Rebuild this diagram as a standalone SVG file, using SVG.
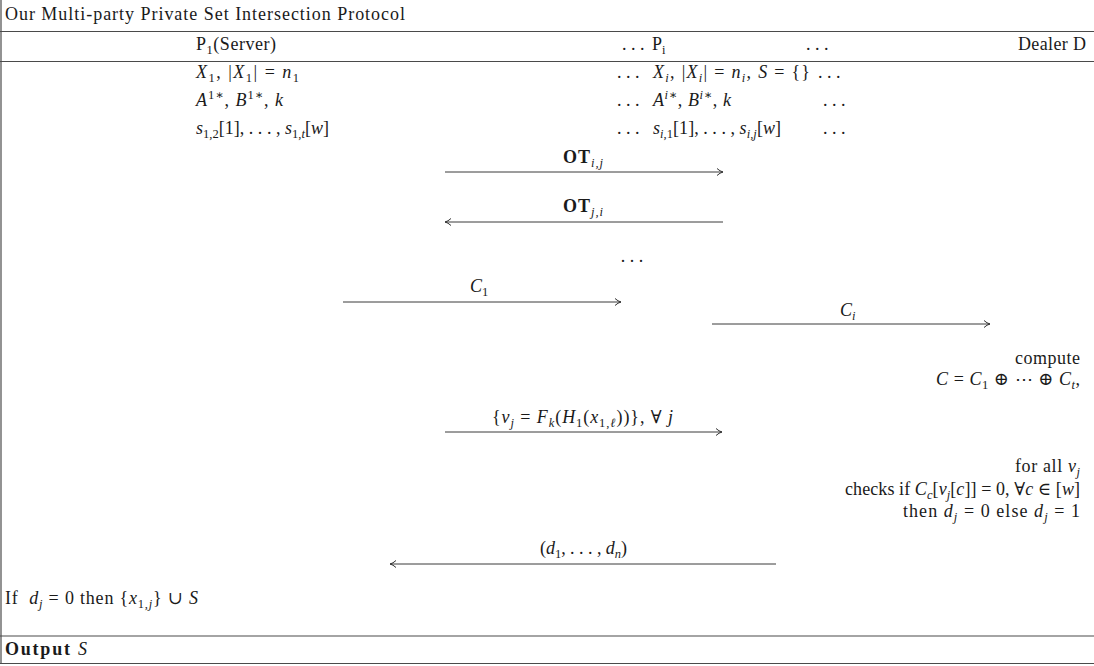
<svg xmlns="http://www.w3.org/2000/svg" width="1094" height="666" viewBox="0 0 1094 666">
<defs>
<style>
text{font-family:"Liberation Serif","DejaVu Serif",serif;font-size:18px;fill:#1a1a1a;white-space:pre}
.i{font-style:italic}
.s{font-size:12.5px}
.b{font-weight:bold}
.e{text-anchor:end}
.m{text-anchor:middle}
.rule{stroke:#4a4a4a;stroke-width:1.2;fill:none}
.msg{stroke:#3a3a3a;stroke-width:1;fill:none;marker-end:url(#ah)}
</style>
<marker id="ah" markerWidth="10" markerHeight="10" refX="7" refY="5" orient="auto" markerUnits="userSpaceOnUse">
<path d="M1,1.5 Q4,4.3 7,5 Q4,5.7 1,8.5" fill="none" stroke="#333" stroke-width="1"/>
</marker>
</defs>
<rect width="1094" height="666" fill="#fff"/>
<g id="frame">
<line class="rule" x1="1" y1="0" x2="1" y2="663.5"/>
<line class="rule" x1="0" y1="31.5" x2="1094" y2="31.5"/>
<line class="rule" x1="0" y1="61.5" x2="1094" y2="61.5" stroke-width="1.6"/>
<line class="rule" x1="0" y1="636" x2="1094" y2="636"/>
<line class="rule" x1="0" y1="663.5" x2="1094" y2="663.5"/>
<text x="5" y="20" textLength="400" lengthAdjust="spacing">Our Multi-party Private Set Intersection Protocol</text>
</g>
<g id="server">
<text x="196" y="50" textLength="80" lengthAdjust="spacing">P<tspan class="s" dy="3.5">1</tspan><tspan dy="-3.5">(Server)</tspan></text>
<text x="196" y="78" textLength="103" lengthAdjust="spacing"><tspan class="i">X</tspan><tspan class="s" dy="3.5">1</tspan><tspan dy="-3.5">, |</tspan><tspan class="i">X</tspan><tspan class="s" dy="3.5">1</tspan><tspan dy="-3.5">| = </tspan><tspan class="i">n</tspan><tspan class="s" dy="3.5">1</tspan></text>
<text x="196" y="106" textLength="87" lengthAdjust="spacing"><tspan class="i">A</tspan><tspan class="s" dy="-7">1∗</tspan><tspan dy="7">, </tspan><tspan class="i">B</tspan><tspan class="s" dy="-7">1∗</tspan><tspan dy="7">, </tspan><tspan class="i">k</tspan></text>
<text x="196" y="134" textLength="133" lengthAdjust="spacing"><tspan class="i">s</tspan><tspan class="s" dy="3.5">1,2</tspan><tspan dy="-3.5">[1], . . . , </tspan><tspan class="i">s</tspan><tspan class="s" dy="3.5">1,</tspan><tspan class="s i">t</tspan><tspan dy="-3.5">[</tspan><tspan class="i">w</tspan><tspan>]</tspan></text>
<text x="5" y="604" textLength="193" lengthAdjust="spacing">If  <tspan class="i">d</tspan><tspan class="s i" dy="3.5">j</tspan><tspan dy="-3.5"> = 0 then {</tspan><tspan class="i">x</tspan><tspan class="s" dy="3.5">1,</tspan><tspan class="s i">j</tspan><tspan dy="-3.5">} ∪ </tspan><tspan class="i">S</tspan></text>
<text x="5" y="655" textLength="82" lengthAdjust="spacing"><tspan class="b">Output</tspan> <tspan class="i">S</tspan></text>
</g>
<g id="party-i">
<text x="622" y="50">. . .</text>
<text x="652" y="50">P<tspan class="s" dy="3.5">i</tspan></text>
<text x="806" y="50">. . .</text>
<text x="617" y="78">. . .</text>
<text x="653" y="78" textLength="157" lengthAdjust="spacing"><tspan class="i">X</tspan><tspan class="s i" dy="3.5">i</tspan><tspan dy="-3.5">, |</tspan><tspan class="i">X</tspan><tspan class="s i" dy="3.5">i</tspan><tspan dy="-3.5">| = </tspan><tspan class="i">n</tspan><tspan class="s i" dy="3.5">i</tspan><tspan dy="-3.5">, </tspan><tspan class="i">S</tspan><tspan> = {}</tspan></text>
<text x="818" y="78">. . .</text>
<text x="617" y="106">. . .</text>
<text x="653" y="106" textLength="78" lengthAdjust="spacing"><tspan class="i">A</tspan><tspan class="s i" dy="-7">i</tspan><tspan class="s">∗</tspan><tspan dy="7">, </tspan><tspan class="i">B</tspan><tspan class="s i" dy="-7">i</tspan><tspan class="s">∗</tspan><tspan dy="7">, </tspan><tspan class="i">k</tspan></text>
<text x="823" y="106">. . .</text>
<text x="617" y="134">. . .</text>
<text x="653" y="134" textLength="128" lengthAdjust="spacing"><tspan class="i">s</tspan><tspan class="s i" dy="3.5">i</tspan><tspan class="s">,1</tspan><tspan dy="-3.5">[1], . . . , </tspan><tspan class="i">s</tspan><tspan class="s i" dy="3.5">i,j</tspan><tspan dy="-3.5">[</tspan><tspan class="i">w</tspan><tspan>]</tspan></text>
<text x="823" y="134">. . .</text>
</g>
<g id="dealer">
<text x="1018" y="50" textLength="68" lengthAdjust="spacing">Dealer D</text>
<text x="1015" y="364" textLength="65" lengthAdjust="spacing">compute</text>
<text x="936" y="385" textLength="144" lengthAdjust="spacing"><tspan class="i">C</tspan> = <tspan class="i">C</tspan><tspan class="s" dy="3.5">1</tspan><tspan dy="-3.5"> ⊕ ⋯ ⊕ </tspan><tspan class="i">C</tspan><tspan class="s i" dy="3.5">t</tspan><tspan dy="-3.5">,</tspan></text>
<text x="1015" y="472" textLength="65" lengthAdjust="spacing">for all <tspan class="i">v</tspan><tspan class="s i" dy="3.5">j</tspan></text>
<text x="845" y="495" textLength="235" lengthAdjust="spacing">checks if <tspan class="i">C</tspan><tspan class="s i" dy="3.5">c</tspan><tspan dy="-3.5">[</tspan><tspan class="i">v</tspan><tspan class="s i" dy="3.5">j</tspan><tspan dy="-3.5">[</tspan><tspan class="i">c</tspan><tspan>]] = 0, ∀</tspan><tspan class="i">c</tspan><tspan> ∈ [</tspan><tspan class="i">w</tspan><tspan>]</tspan></text>
<text x="903" y="517" textLength="177" lengthAdjust="spacing">then <tspan class="i">d</tspan><tspan class="s i" dy="3.5">j</tspan><tspan dy="-3.5"> = 0 else </tspan><tspan class="i">d</tspan><tspan class="s i" dy="3.5">j</tspan><tspan dy="-3.5"> = 1</tspan></text>
</g>
<g id="connectors">
<line class="msg" x1="445" y1="172" x2="723" y2="172"/>
<text x="563" y="163" textLength="40" lengthAdjust="spacing"><tspan class="b">OT</tspan><tspan class="s i" dy="3.5">i,j</tspan></text>
<line class="msg" x1="723" y1="222" x2="445" y2="222"/>
<text x="563" y="212" textLength="40" lengthAdjust="spacing"><tspan class="b">OT</tspan><tspan class="s i" dy="3.5">j,i</tspan></text>
<text class="m" x="632" y="262">. . .</text>
<line class="msg" x1="343" y1="302" x2="621" y2="302"/>
<text x="470" y="292"><tspan class="i">C</tspan><tspan class="s" dy="3.5">1</tspan></text>
<line class="msg" x1="712" y1="324" x2="990" y2="324"/>
<text x="840" y="316"><tspan class="i">C</tspan><tspan class="s i" dy="3.5">i</tspan></text>
<line class="msg" x1="445" y1="432" x2="722" y2="432"/>
<text x="492" y="423" textLength="181" lengthAdjust="spacing">{<tspan class="i">v</tspan><tspan class="s i" dy="3.5">j</tspan><tspan dy="-3.5"> = </tspan><tspan class="i">F</tspan><tspan class="s i" dy="3.5">k</tspan><tspan dy="-3.5">(</tspan><tspan class="i">H</tspan><tspan class="s" dy="3.5">1</tspan><tspan dy="-3.5">(</tspan><tspan class="i">x</tspan><tspan class="s" dy="3.5">1,</tspan><tspan class="s i">ℓ</tspan><tspan dy="-3.5">))}, ∀ </tspan><tspan class="i">j</tspan></text>
<line class="msg" x1="776" y1="564" x2="390" y2="564"/>
<text x="540" y="554" textLength="87" lengthAdjust="spacing">(<tspan class="i">d</tspan><tspan class="s" dy="3.5">1</tspan><tspan dy="-3.5">, . . . , </tspan><tspan class="i">d</tspan><tspan class="s i" dy="3.5">n</tspan><tspan dy="-3.5">)</tspan></text>
</g>
</svg>
